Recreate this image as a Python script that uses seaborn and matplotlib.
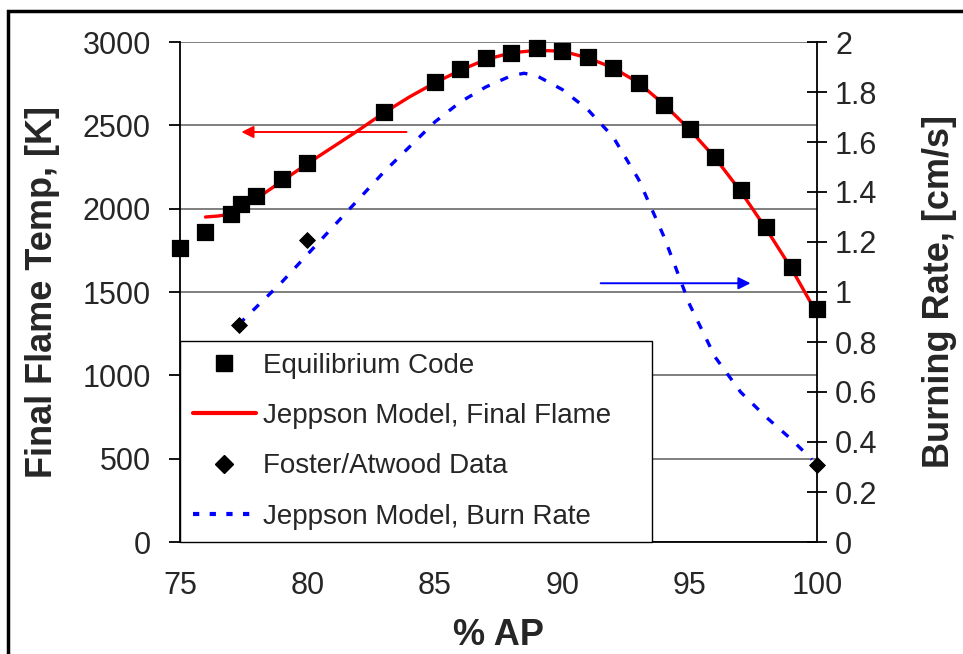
import numpy as np
import pandas as pd
import matplotlib
matplotlib.use("Agg")
import matplotlib.pyplot as plt
import seaborn as sns
from matplotlib.lines import Line2D
from matplotlib.patches import Rectangle
from matplotlib.ticker import FuncFormatter, MultipleLocator

# Equilibrium code results (left axis, K)
eq_ap = [75, 76, 77, 77.4, 78, 79, 80, 83, 85, 86, 87, 88, 89, 90, 91, 92, 93, 94, 95, 96, 97, 98, 99, 100]
eq_temp = [1765, 1862, 1968, 2028, 2076, 2178, 2276, 2578, 2762, 2836, 2904, 2936, 2962, 2948,
           2908, 2846, 2752, 2622, 2480, 2312, 2110, 1892, 1652, 1396]

# Jeppson model, final flame temperature (left axis, K)
flame_ap = [76, 76.5, 77, 78, 79, 80, 81, 82, 83, 84, 85, 86, 87, 88, 89, 90, 91, 92, 93, 94, 95, 96, 97, 98, 99, 100]
flame_temp = [1950, 1956, 1968, 2060, 2165, 2270, 2370, 2470, 2575, 2670, 2755, 2830, 2895, 2935, 2950,
              2945, 2905, 2845, 2755, 2625, 2475, 2305, 2105, 1880, 1640, 1370]

# Foster/Atwood data (right axis, cm/s)
fa_ap = [77.3, 80, 100]
fa_rate = [0.87, 1.21, 0.31]

# Jeppson model, burn rate (right axis, cm/s)
burn_ap = [77.3, 78, 79, 80, 81, 82, 83, 84, 85, 86, 87, 88, 88.5, 89, 90, 91, 92, 93, 94, 95, 96, 97, 98, 99, 99.8]
burn_rate = [0.87, 0.94, 1.04, 1.15, 1.26, 1.37, 1.48, 1.58, 1.68, 1.76, 1.82, 1.865, 1.875, 1.865, 1.81,
             1.73, 1.62, 1.45, 1.22, 0.95, 0.74, 0.60, 0.50, 0.41, 0.33]

sns.set_style("white")
plt.rcParams['font.family'] = ['Liberation Sans', 'DejaVu Sans']

fig = plt.figure(figsize=(9.63, 6.54), dpi=100)
ax = fig.add_axes([180 / 963, 1 - 542 / 654, 637 / 963, 500 / 654])
ax2 = ax.twinx()

# horizontal gridlines on the temperature axis
ax.set_axisbelow(True)
ax.grid(axis='y', color='#7f7f7f', lw=1.4)

sns.lineplot(x=flame_ap, y=flame_temp, ax=ax, color='red', lw=2.4, sort=False)
sns.scatterplot(x=eq_ap, y=eq_temp, ax=ax, marker='s', s=125, color='black', edgecolor='black',
                clip_on=False, zorder=5)
sns.lineplot(x=burn_ap, y=burn_rate, ax=ax2, color='blue', lw=2.4, sort=False)
ax2.lines[-1].set_linestyle((0, (2.5, 3.5)))
sns.scatterplot(x=fa_ap, y=fa_rate, ax=ax2, marker='D', s=65, color='black', edgecolor='black',
                clip_on=False, zorder=5)

# arrows pointing at each axis
ax.annotate('', xy=(77.3, 2460), xytext=(84.0, 2460),
            arrowprops=dict(arrowstyle='-|>', color='red', lw=1.4, mutation_scale=18))
ax2.annotate('', xy=(97.5, 1.035), xytext=(91.4, 1.035),
             arrowprops=dict(arrowstyle='-|>', color='blue', lw=1.4, mutation_scale=18))

ax.set_xlim(75, 100)
ax.set_ylim(0, 3000)
ax2.set_ylim(0, 2)
ax.set_xticks([75, 80, 85, 90, 95, 100])
ax.yaxis.set_major_locator(MultipleLocator(500))
ax2.yaxis.set_major_locator(MultipleLocator(0.2))
ax2.yaxis.set_major_formatter(FuncFormatter(lambda v, p: '%g' % round(v, 1)))

for a in (ax, ax2):
    for s in a.spines.values():
        s.set_color('black')
        s.set_linewidth(1.3)
    a.spines['top'].set_visible(False)
ax.spines['right'].set_visible(False)
ax2.spines['left'].set_visible(False)
ax2.spines['bottom'].set_visible(False)

ax.tick_params(axis='x', direction='out', length=7, width=1.3, labelsize=22, pad=14, color='black')
ax.tick_params(axis='y', direction='out', length=8, width=1.3, labelsize=22, pad=13, color='black')
ax2.tick_params(axis='y', direction='inout', length=14, width=1.3, labelsize=22, pad=6, color='black')

ax.set_xlabel('% AP', fontsize=26, fontweight='bold', labelpad=12)
ax.set_ylabel('Final Flame Temp, [K]', fontsize=26, fontweight='bold', labelpad=16)
ax2.set_ylabel('Burning Rate, [cm/s]', fontsize=26, fontweight='bold', labelpad=32)

handles = [
    Line2D([], [], ls='none', marker='s', ms=11, color='black'),
    Line2D([], [], color='red', lw=3),
    Line2D([], [], ls='none', marker='D', ms=9, color='black'),
    Line2D([], [], color='blue', lw=3, ls=(0, (1.5, 2.5))),
]
labels = ['Equilibrium Code', 'Jeppson Model, Final Flame', 'Foster/Atwood Data', 'Jeppson Model, Burn Rate']
leg = ax2.legend(handles, labels, loc='lower left', bbox_to_anchor=(0, 0, 472 / 637, 0.4),
                 mode='expand', fontsize=20, frameon=True, fancybox=False, framealpha=1,
                 edgecolor='black', borderaxespad=0, borderpad=0.45, labelspacing=0.87,
                 handlelength=2.3, handletextpad=0.25)
leg.get_frame().set_linewidth(1.0)
leg.set_zorder(10)

# outer frame around the figure
fig.patches.append(Rectangle((8 / 963, -0.1), 1.2, 1.1 - 11 / 654, transform=fig.transFigure,
                             fill=False, lw=2.5, ec='black'))

fig.savefig('out.png', dpi=100)
